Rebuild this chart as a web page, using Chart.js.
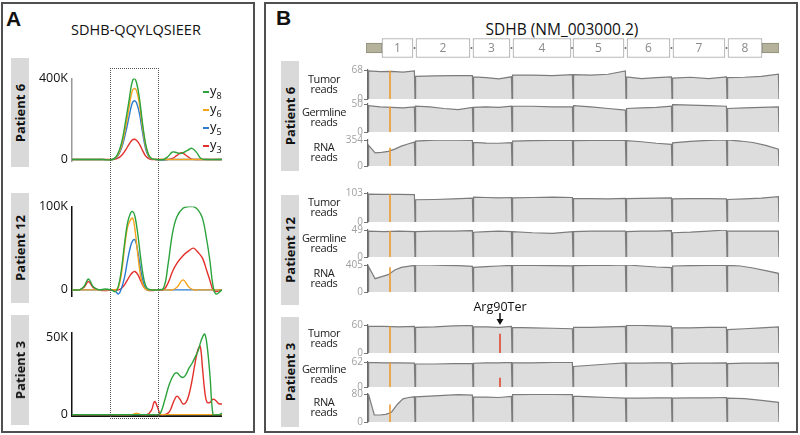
<!DOCTYPE html>
<html>
<head>
<meta charset="utf-8">
<script src="https://cdn.jsdelivr.net/npm/chart.js@4.4.1/dist/chart.umd.min.js"></script>
<style>
body { margin: 0; width: 800px; height: 435px; position: relative; background: #fff; overflow: hidden; font-family: "Open Sans", sans-serif; color: #111; }
.panel { position: absolute; border: 2px solid #505050; box-sizing: border-box; }
.tag { position: absolute; font: bold 21px "Liberation Sans", Arial, sans-serif; }
.title { position: absolute; white-space: nowrap; transform: translateX(-50%); }
.pbox { position: absolute; width: 18px; background: #d9d9d9; }
.pbox span { position: absolute; left: 50%; top: 50%; transform: translate(-50%, -50%) rotate(-90deg); white-space: nowrap; font-weight: bold; font-size: 13px; }
.tl { position: absolute; width: 60px; text-align: center; font-size: 11px; letter-spacing: -0.4px; line-height: 10px; color: #222; transform: translateY(-50%); }
.leg { position: absolute; left: 203px; top: 84px; font-size: 13px; line-height: 12.4px; }
.leg div { white-space: nowrap; }
.leg i { display: inline-block; width: 6px; height: 2px; vertical-align: middle; margin-right: 1px; }
.leg sub { font-size: 9px; }
.box { position: absolute; border: 1.5px dotted #555; box-sizing: border-box; }
canvas { position: absolute; }
</style>
</head>
<body>
<div class="panel" style="left:1px;top:2px;width:254px;height:431px"></div>
<div class="panel" style="left:264px;top:2px;width:534px;height:431px"></div>
<div class="tag" style="left:6px;top:7px">A</div>
<div class="tag" style="left:276px;top:6px">B</div>
<div class="title" style="left:136px;top:20px;font-size:14.5px">SDHB-QQYLQSIEER</div>
<div class="title" style="left:562px;top:18px;font-size:15.5px">SDHB (NM_003000.2)</div>

<canvas id="c6" width="202" height="106" style="left:20px;top:67px"></canvas>
<canvas id="c12" width="202" height="113" style="left:20px;top:195px"></canvas>
<canvas id="c3" width="202" height="106" style="left:20px;top:321px"></canvas>
<canvas id="gene" width="413" height="24" style="left:366px;top:36px"></canvas>

<script>
// ---------- Panel A : SRM chromatograms (values in K) ----------
const ionNames = ['y8', 'y6', 'y5', 'y3'];
const ionColors = ['#2ca33c', '#f7a41d', '#2b7bd0', '#e2302b'];

const p6Time = [0, 10, 20, 27, 30, 33, 36, 38, 40, 41.5, 43, 45, 47, 49, 51, 53, 56, 61, 64, 67, 70, 73, 77, 80, 83, 86, 90, 100];
const p6Y8 = [0, 0, 0, 0, 20, 80, 200, 290, 380, 400, 380, 300, 180, 80, 25, 5, 0, 0, 15, 37, 33, 30, 45, 55, 35, 5, 0, 0];
const p6Y6 = [0, 0, 0, 0, 15, 65, 170, 255, 335, 350, 340, 270, 160, 70, 20, 4, 0, 0, 0, 0, 0, 0, 0, 0, 0, 0, 0, 0];
const p6Y5 = [0, 0, 0, 0, 12, 55, 140, 210, 275, 290, 280, 225, 135, 55, 15, 3, 0, -3, 0, 0, 0, 0, 0, 0, 0, 0, 0, 0];
const p6Y3 = [0, 0, 0, 0, 4, 20, 50, 75, 95, 100, 95, 75, 45, 18, 5, 0, 0, 0, 0, 5, 20, 33, 15, 2, 0, 0, 0, 0];

const p12Time = [0, 5, 8, 11, 14, 18, 22, 26, 29, 31, 33, 35, 37, 39, 40.5, 42, 44, 46, 48, 50, 53, 57, 61, 64, 67, 70, 74, 78, 81, 84, 87, 90, 92, 94, 96, 100];
const p12Y8 = [0, 0, 4, 13, 4, 0, 1, 0, -2, 5, 25, 55, 80, 92, 94, 88, 65, 35, 12, 2, 0, 0, 2, 30, 68, 88, 98, 100, 100, 96, 86, 58, 34, 5, -5, 0];
const p12Y6 = [0, 0, 0, 0, 0, 0, 0, 0, 0, 3, 20, 50, 75, 84, 86, 72, 40, 14, 3, 0, 0, 0, 0, 0, 0, 3, 12, 3, 0, 0, 0, 0, 0, 0, 0, 0];
const p12Y5 = [0, 0, 0, 0, 0, 0, 0, 0, -2, -5, 2, 15, 35, 52, 59, 60, 45, 22, 6, 0, 0, 0, 0, 0, 0, 0, 0, 0, 0, 0, 0, 0, 0, 0, 0, 0];
const p12Y3 = [0, 0, 3, 10, 3, 0, -1, 0, 0, 0, 2, 6, 12, 18, 21, 22, 18, 10, 3, 0, -1, 0, 0, 8, 22, 32, 41, 47, 50, 45, 38, 22, 11, 0, -2, 0];

const p3Time = [0, 20, 40, 43, 46, 50, 53, 55, 57, 59, 62, 65, 68, 70, 72, 74, 76, 78, 80, 82, 84, 85.5, 87, 88.5, 90, 92, 94, 96, 98, 100];
const p3Y8 = [0, 0, 0, 0, 0, 0, 0, 0, 0, 1, 10, 20, 26, 27, 25, 24, 26, 30, 33, 37, 41, 46, 50, 52, 45, 25, 0, 0, 0, 1];
const p3Y6 = [0, 0, 0, 1, 0, 0, 0, 0, 0, 0, 0, 0, 0, 0, 0, 0, 0, 0, 0, 0, 0, 0, 0, 0, 0, 0, 0, 0, 0, 0];
const p3Y5 = [0, 0, 0, 0, 0, 0, 0, 0, 0, 0, 0, 0, 0, 0, 0, 0, 0, 0, 0, 0, 0, 0, 0, 0, 0, 0, 0, 0, 0, 0];
const p3Y3 = [0, 0, 0, 0, 0, 0, 3, 8.5, 5, 0, 0, 2, 9, 12, 10, 7, 8, 13, 22, 33, 42, 44, 30, 15, 8, 8, 10, 9, 7, 7];

const boxWindow = [25.3, 58]; // dotted retention-time window

// ---------- Panel B : coverage tracks ----------
const segBounds = [2, 49, 107, 146, 207, 260, 306, 361, 413];
const exonRanges = [[16, 47], [50, 104], [107, 144], [147, 205], [207, 258], [261, 304], [307, 359], [362, 396]];
const utrRanges = [[0, 16], [396, 413]];
const exonNames = ['1', '2', '3', '4', '5', '6', '7', '8'];
const snpPos = 24;
const arg90Pos = 134;

const p6Tumor = [[66, 64, 65, 63, 66], [53, 54, 55, 55], [52, 50, 47, 52], [56, 56, 55, 57], [57, 56, 58, 66], [52, 48, 50, 52], [49, 51, 48, 52], [50, 51, 53, 58]];
const p6Germ = [[47, 45, 44, 43, 45], [46, 45, 42, 40, 44], [44, 45, 44, 46], [46, 46, 45, 45], [47, 45, 42, 39], [42, 43, 44, 46], [49, 48, 47, 46], [42, 43, 44, 45]];
const p6Rna = [[280, 180, 185, 200, 230, 270, 300, 325], [340, 350, 354, 352, 348], [320, 312, 310, 318], [340, 345, 350, 350], [345, 348, 350, 352], [345, 330, 310, 295], [315, 335, 350, 354], [354, 340, 320, 280, 230]];
const p12Tumor = [[99, 98, 98, 97], [79, 80, 82, 85], [88, 87, 86, 87], [86, 87, 88, 87], [84, 83, 82, 84], [83, 84, 85, 86], [82, 83, 83, 82], [80, 82, 85, 90]];
const p12Germ = [[47, 46, 47, 46], [46, 47, 47, 48], [45, 46, 47, 46], [46, 44, 43, 46], [46, 47, 47, 47], [46, 47, 47, 48], [44, 45, 47, 49], [47, 47, 47, 47]];
const p12Rna = [[380, 200, 230, 260, 330, 370, 385, 400], [405, 405, 400, 395, 385], [370, 380, 390, 400], [400, 398, 395, 392], [395, 398, 400, 405], [405, 390, 375, 365], [390, 395, 400, 400], [400, 390, 360, 320, 280]];
const p3Tumor = [[57, 57, 56, 57], [55, 56, 58, 59], [56, 56, 55, 57], [55, 54, 53, 52], [55, 55, 56, 57], [59, 59, 58, 57], [54, 54, 55, 55], [50, 52, 54, 56]];
const p3Germ = [[61, 60, 60, 59], [57, 57, 58, 58], [59, 60, 60, 61], [60, 60, 61, 61], [51, 54, 57, 60], [59, 59, 60, 60], [58, 59, 59, 60], [58, 59, 59, 60]];
const p3Rna = [[78, 20, 20, 22, 28, 50, 66, 70, 72], [72, 74, 76, 78, 77], [72, 71, 70, 73], [78, 79, 79, 78], [74, 72, 70, 68], [68, 68, 69, 69], [68, 69, 69, 70], [68, 67, 62, 56]];

const trackMax = [68, 50, 354, 103, 49, 405, 60, 62, 80];
const snpReads = [66, 45, 250, 99, 47, 370, 57, 60, 50];
const arg90Reads = [0, 0, 0, 0, 0, 0, 41, 23, 0];

// layout
const trackData = [p6Tumor, p6Germ, p6Rna, p12Tumor, p12Germ, p12Rna, p3Tumor, p3Germ, p3Rna];
const trackBox = [[70, 99], [104, 132], [140, 166], [193, 222], [230, 257], [265, 292], [325, 353], [362, 387], [394, 422]];
const trackNames = ['Tumor<br>reads', 'Germline<br>reads', 'RNA<br>reads'];
const patients = ['Patient 6', 'Patient 12', 'Patient 3'];
const boxA = [[58, 167], [193, 303], [315, 425]];
const boxB = [[61, 171], [195, 305], [317, 427]];

function addDiv(cls, css, html) {
    const d = document.createElement('div');
    d.className = cls;
    d.style.cssText = css;
    d.innerHTML = html || '';
    document.body.appendChild(d);
    return d;
}

// patient label boxes
patients.forEach((p, i) => {
    addDiv('pbox', `left:11px;top:${boxA[i][0]}px;height:${boxA[i][1] - boxA[i][0]}px`, `<span>${p}</span>`);
    addDiv('pbox', `left:281px;top:${boxB[i][0]}px;height:${boxB[i][1] - boxB[i][0]}px`, `<span>${p}</span>`);
});

// legend
const leg = addDiv('leg', '');
ionNames.forEach((n, i) => {
    leg.innerHTML += `<div><i style="background:${ionColors[i]}"></i>${n[0]}<sub>${n.slice(1)}</sub></div>`;
});

Chart.defaults.font.family = '"Open Sans", sans-serif';

function chromChart(id, time, series, yMin, yMax, tickMax, axisColor, showX) {
    return new Chart(document.getElementById(id), {
        type: 'line',
        data: {
            datasets: series.map((vals, i) => ({
                label: ionNames[i],
                data: vals.map((v, j) => ({ x: time[j], y: v })),
                borderColor: ionColors[i],
                borderWidth: 1.4,
                pointRadius: 0,
                tension: 0.4,
                fill: false
            }))
        },
        options: {
            responsive: false,
            animation: false,
            layout: { padding: { top: 10, bottom: 8, right: 0 } },
            plugins: { legend: { display: false }, tooltip: { enabled: false } },
            scales: {
                x: {
                    type: 'linear', min: 0, max: 100, display: showX,
                    grid: { display: false, drawTicks: false }, ticks: { display: false },
                    border: { color: '#111', width: 2 }
                },
                y: {
                    min: yMin, max: yMax,
                    afterFit: a => { a.width = 52; },
                    afterBuildTicks: a => { a.ticks = [{ value: 0 }, { value: tickMax }]; },
                    ticks: { callback: v => v === 0 ? '0' : v + 'K', color: '#111', font: { size: 12.5 }, padding: 4 },
                    grid: { display: false, drawTicks: false },
                    border: { color: axisColor, width: 1.5 }
                }
            }
        }
    });
}

const c6 = chromChart('c6', p6Time, [p6Y8, p6Y6, p6Y5, p6Y3], -10, 400, 400, '#9a9a9a', false);
chromChart('c12', p12Time, [p12Y8, p12Y6, p12Y5, p12Y3], -8, 100, 100, '#111', false);
chromChart('c3', p3Time, [p3Y8, p3Y6, p3Y5, p3Y3], -0.5, 53, 50, '#111', true);

// dotted window spanning the three chromatograms
const bx0 = c6.canvas.offsetLeft + c6.scales.x.getPixelForValue(boxWindow[0]);
const bx1 = c6.canvas.offsetLeft + c6.scales.x.getPixelForValue(boxWindow[1]);
addDiv('box', `left:${bx0}px;top:68px;width:${bx1 - bx0}px;height:351px`);

// gene model
const exonText = {
    id: 'exonText',
    afterDatasetsDraw(chart) {
        const ctx = chart.ctx;
        const bars = chart.getDatasetMeta(1).data;
        ctx.save();
        ctx.font = '12px "Open Sans", sans-serif';
        ctx.textAlign = 'center';
        ctx.textBaseline = 'middle';
        bars.forEach((b, i) => {
            ctx.fillStyle = '#8a8a8a';
            ctx.fillText(exonNames[i], (b.x + b.base) / 2, b.y + 1);
            if (i > 0) {
                const prev = bars[i - 1];
                ctx.fillStyle = '#555';
                ctx.fillRect((prev.x + b.base) / 2 - 0.8, b.y - 0.8, 1.6, 1.6);
            }
        });
        ctx.restore();
    }
};

new Chart(document.getElementById('gene'), {
    type: 'bar',
    data: {
        labels: ['SDHB'],
        datasets: [
            { data: utrRanges.map(r => ({ x: r, y: 'SDHB' })), backgroundColor: '#b5b29b', borderColor: '#8f8d7a', borderWidth: 1, borderSkipped: false, barThickness: 10, grouped: false },
            { data: exonRanges.map(r => ({ x: r, y: 'SDHB' })), backgroundColor: '#ffffff', borderColor: '#a3a3a3', borderWidth: 1, borderSkipped: false, barThickness: 19, grouped: false }
        ]
    },
    options: {
        indexAxis: 'y',
        responsive: false,
        animation: false,
        layout: { padding: 0 },
        plugins: { legend: { display: false }, tooltip: { enabled: false } },
        scales: {
            x: { type: 'linear', min: 0, max: 413, display: false },
            y: { display: false }
        }
    },
    plugins: [exonText]
});

// coverage tracks
const arrowLabel = {
    id: 'arrowLabel',
    afterDraw(chart) {
        const x = chart.scales.x.getPixelForValue(arg90Pos);
        const top = chart.chartArea.top;
        const ctx = chart.ctx;
        ctx.save();
        ctx.fillStyle = '#111';
        ctx.strokeStyle = '#111';
        ctx.font = '12.5px "Open Sans", sans-serif';
        ctx.textAlign = 'center';
        ctx.textBaseline = 'middle';
        ctx.fillText('Arg90Ter', x, top - 18);
        ctx.lineWidth = 1.5;
        ctx.beginPath();
        ctx.moveTo(x, top - 12);
        ctx.lineTo(x, top - 4);
        ctx.stroke();
        ctx.beginPath();
        ctx.moveTo(x - 3.5, top - 6);
        ctx.lineTo(x + 3.5, top - 6);
        ctx.lineTo(x, top);
        ctx.closePath();
        ctx.fill();
        ctx.restore();
    }
};

function coveragePoints(segs) {
    const pts = [{ x: segBounds[0], y: 0 }];
    segs.forEach((vals, s) => {
        const b0 = segBounds[s], b1 = segBounds[s + 1];
        vals.forEach((v, j) => {
            pts.push({ x: b0 + 0.6 + (b1 - b0 - 1.2) * j / (vals.length - 1), y: v });
        });
        pts.push({ x: b1, y: 0 });
    });
    return pts;
}

trackData.forEach((segs, k) => {
    const [top, bottom] = trackBox[k];
    const padTop = k === 6 ? 29 : 7;
    const cv = document.createElement('canvas');
    cv.width = 463;
    cv.height = bottom - top + padTop + 7;
    cv.style.left = '322px';
    cv.style.top = (top - padTop) + 'px';
    document.body.appendChild(cv);

    const datasets = [
        { data: coveragePoints(segs), borderColor: '#7c7c7c', backgroundColor: '#dddddd', borderWidth: 1.2, pointRadius: 0, tension: 0, fill: 'origin' },
        { data: [{ x: snpPos, y: 0 }, { x: snpPos, y: snpReads[k] }], borderColor: '#eb9a2c', borderWidth: 1.6, pointRadius: 0, fill: false }
    ];
    if (arg90Reads[k] > 0) {
        datasets.push({ data: [{ x: arg90Pos, y: 0 }, { x: arg90Pos, y: arg90Reads[k] }], borderColor: '#e0452f', borderWidth: 1.6, pointRadius: 0, fill: false });
    }

    new Chart(cv, {
        type: 'line',
        data: { datasets: datasets.reverse() },
        options: {
            responsive: false,
            animation: false,
            layout: { padding: { top: padTop, bottom: 7, right: 6 } },
            plugins: { legend: { display: false }, tooltip: { enabled: false } },
            scales: {
                x: { type: 'linear', min: 2, max: 413, display: false },
                y: {
                    min: 0, max: trackMax[k],
                    afterFit: a => { a.width = 46; },
                    afterBuildTicks: a => { a.ticks = [{ value: 0 }, { value: trackMax[k] }]; },
                    ticks: { color: '#a0a0a0', font: { size: 10 }, padding: 1 },
                    grid: { drawOnChartArea: false, tickLength: 4, color: '#777' },
                    border: { color: '#6a6a6a', width: 1.2 }
                }
            }
        },
        plugins: k === 6 ? [arrowLabel] : []
    });

    const mid = (top + bottom) / 2 - 1;
    addDiv('tl', `left:294px;top:${mid}px`, trackNames[k % 3]);
});
</script>
</body>
</html>
